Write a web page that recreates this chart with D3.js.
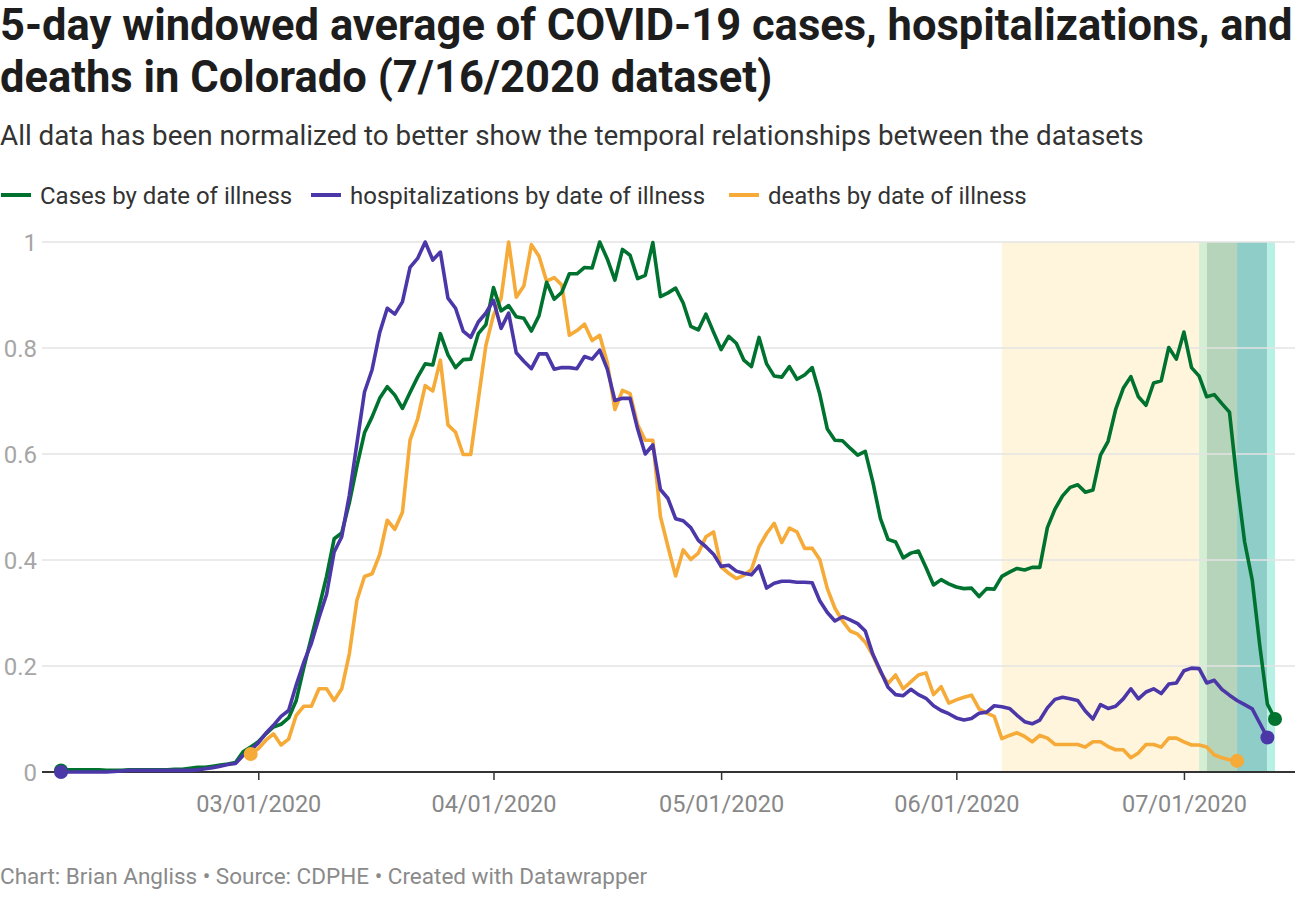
<!DOCTYPE html>
<html>
<head>
<meta charset="utf-8">
<script src="https://cdn.jsdelivr.net/npm/d3@7"></script>
<style>
  html, body { margin: 0; padding: 0; background: #fff; }
  svg { display: block; font-family: Roboto, "Noto Sans", sans-serif; }
</style>
</head>
<body>
<svg id="chart" width="1300" height="900"></svg>
<script>
// ---------------- DATA ----------------
const seriesNames = ["Cases by date of illness", "hospitalizations by date of illness", "deaths by date of illness"];
const casesStart = "2020-02-04";
const hospStart = "2020-02-04";
const deathsStart = "2020-02-29";

const cases = [
  0.003,0.004,0.004,0.004,0.004,0.004,0.003,0.003,0.003,0.004,
  0.004,0.004,0.004,0.004,0.004,0.005,0.005,0.007,0.009,0.009,
  0.011,0.013,0.015,0.018,0.038,0.047,0.057,0.072,0.085,0.090,
  0.102,0.135,0.197,0.254,0.310,0.369,0.440,0.451,0.508,0.577,
  0.640,0.670,0.705,0.727,0.711,0.686,0.716,0.745,0.770,0.768,
  0.827,0.787,0.763,0.778,0.779,0.827,0.844,0.914,0.870,0.880,
  0.859,0.856,0.832,0.861,0.924,0.892,0.905,0.940,0.940,0.952,
  0.951,1.000,0.968,0.928,0.986,0.975,0.931,0.937,0.999,0.897,
  0.904,0.913,0.885,0.841,0.834,0.864,0.830,0.797,0.822,0.809,
  0.777,0.765,0.820,0.770,0.747,0.745,0.765,0.741,0.749,0.763,
  0.713,0.647,0.626,0.625,0.611,0.598,0.605,0.547,0.478,0.439,
  0.434,0.404,0.413,0.417,0.386,0.353,0.363,0.355,0.349,0.346,
  0.347,0.331,0.346,0.345,0.369,0.377,0.384,0.381,0.386,0.386,
  0.461,0.496,0.521,0.537,0.542,0.528,0.532,0.598,0.624,0.684,
  0.724,0.746,0.708,0.692,0.734,0.738,0.801,0.779,0.830,0.763,
  0.747,0.708,0.712,0.695,0.679,0.547,0.434,0.362,0.238,0.128,
  0.100
];

const hospitalizations = [
  0.000,0.000,0.000,0.000,0.000,0.000,0.000,0.001,0.002,0.003,
  0.003,0.003,0.003,0.003,0.003,0.003,0.003,0.003,0.004,0.006,
  0.008,0.011,0.014,0.016,0.031,0.041,0.055,0.073,0.088,0.105,
  0.116,0.164,0.207,0.243,0.291,0.335,0.415,0.444,0.522,0.620,
  0.717,0.759,0.829,0.875,0.864,0.887,0.952,0.969,1.000,0.966,
  0.981,0.894,0.875,0.832,0.820,0.849,0.866,0.890,0.837,0.866,
  0.791,0.775,0.761,0.789,0.789,0.760,0.763,0.763,0.761,0.784,
  0.779,0.796,0.760,0.701,0.705,0.705,0.647,0.600,0.617,0.533,
  0.516,0.478,0.474,0.461,0.437,0.425,0.411,0.388,0.390,0.379,
  0.375,0.372,0.389,0.347,0.356,0.360,0.360,0.358,0.358,0.357,
  0.323,0.301,0.285,0.293,0.287,0.280,0.266,0.222,0.191,0.160,
  0.146,0.144,0.156,0.146,0.139,0.125,0.116,0.110,0.102,0.098,
  0.101,0.111,0.113,0.125,0.123,0.120,0.107,0.095,0.091,0.098,
  0.121,0.137,0.141,0.138,0.135,0.115,0.100,0.127,0.120,0.124,
  0.138,0.157,0.138,0.151,0.157,0.148,0.166,0.168,0.191,0.196,
  0.195,0.168,0.173,0.156,0.145,0.135,0.127,0.119,0.092,0.065
];

const deaths = [
  0.034,0.044,0.060,0.072,0.051,0.062,0.107,0.124,0.124,0.157,
  0.157,0.135,0.157,0.223,0.324,0.369,0.374,0.410,0.475,0.458,
  0.490,0.626,0.666,0.729,0.719,0.777,0.655,0.641,0.599,0.599,
  0.703,0.805,0.862,0.894,1.000,0.896,0.917,0.995,0.973,0.926,
  0.933,0.919,0.824,0.833,0.845,0.814,0.824,0.772,0.684,0.720,
  0.714,0.655,0.626,0.626,0.482,0.425,0.370,0.419,0.401,0.413,
  0.444,0.453,0.387,0.375,0.365,0.371,0.382,0.425,0.450,0.469,
  0.433,0.460,0.453,0.422,0.422,0.401,0.346,0.309,0.285,0.266,
  0.260,0.245,0.220,0.188,0.167,0.183,0.157,0.170,0.183,0.187,
  0.146,0.161,0.130,0.136,0.141,0.145,0.119,0.111,0.105,0.063,
  0.069,0.074,0.067,0.057,0.069,0.064,0.052,0.052,0.052,0.052,
  0.047,0.057,0.057,0.048,0.042,0.042,0.027,0.036,0.052,0.052,
  0.047,0.064,0.064,0.057,0.051,0.051,0.047,0.032,0.027,0.023,
  0.021
];

const yTicks = [0, 0.2, 0.4, 0.6, 0.8, 1];
const yTickLabels = ["0", "0.2", "0.4", "0.6", "0.8", "1"];
const xTickDates = ["2020-03-01", "2020-04-01", "2020-05-01", "2020-06-01", "2020-07-01"];
const xDomain = ["2020-02-04", "2020-07-13"];
// highlighted date ranges (start, end)
const rangeStarts = ["2020-06-07", "2020-07-03", "2020-07-04", "2020-07-08", "2020-07-12"];
const rangeEnds   = ["2020-07-03", "2020-07-04", "2020-07-08", "2020-07-12", "2020-07-13"];

const titleLines = ["5-day windowed average of COVID-19 cases, hospitalizations, and", "deaths in Colorado (7/16/2020 dataset)"];
const subtitle = "All data has been normalized to better show the temporal relationships between the datasets";
const footer = "Chart: Brian Angliss \u2022 Source: CDPHE \u2022 Created with Datawrapper";

// ---------------- STYLE ----------------
const colors = ["#00722f", "#4b37a8", "#f6aa38"];
const rangeColors = ["#fef5dc", "#d4eed3", "#b6d4b9", "#8ecdc8", "#b7f1e3"];

const parse = d3.timeParse("%Y-%m-%d");
const svg = d3.select("#chart");

const plotLeft = 42, plotRight = 1295;
const x = d3.scaleTime().domain(xDomain.map(parse)).range([61, 1275]);
const y = d3.scaleLinear().domain([0, 1]).range([772, 242]);

// Title
svg.append("g").selectAll("text").data(titleLines).join("text")
  .attr("x", 0).attr("y", (d, i) => 40 + i * 52)
  .attr("font-size", 43.5).attr("font-weight", 700).attr("fill", "#1d1d1d")
  .text(d => d);

svg.append("text").attr("x", 0).attr("y", 145)
  .attr("font-size", 27.8).attr("fill", "#333").text(subtitle);

// Legend
const legendX = [0, 310, 728];
const lg = svg.append("g").attr("class", "legend");
seriesNames.forEach((name, i) => {
  const g = lg.append("g").attr("transform", `translate(${legendX[i]},195)`);
  g.append("line").attr("x1", 1).attr("x2", 31).attr("y1", 0).attr("y2", 0)
    .attr("stroke", colors[i]).attr("stroke-width", 4);
  g.append("text").attr("x", 40).attr("y", 8.5).attr("font-size", 24).attr("fill", "#333").text(name);
});

// Range highlights
svg.append("g").selectAll("rect").data(rangeStarts).join("rect")
  .attr("x", (d) => x(parse(d)))
  .attr("width", (d, i) => x(parse(rangeEnds[i])) - x(parse(d)))
  .attr("y", y(1)).attr("height", y(0) - y(1))
  .attr("fill", (d, i) => rangeColors[i]);

// Grid
const grid = svg.append("g");
grid.selectAll("line").data(yTicks.filter(v => v > 0)).join("line")
  .attr("x1", plotLeft).attr("x2", plotRight)
  .attr("y1", d => y(d)).attr("y2", d => y(d))
  .attr("stroke", "#e3e3e3").attr("stroke-width", 1.5);

// Y labels
svg.append("g").selectAll("text").data(yTicks).join("text")
  .attr("x", 37).attr("y", d => y(d) + 8.5)
  .attr("text-anchor", "end").attr("font-size", 24).attr("fill", "#a6a6a6")
  .text((d, i) => yTickLabels[i]);

// X axis
const xAxis = d3.axisBottom(x)
  .tickValues(xTickDates.map(parse))
  .tickFormat(d3.timeFormat("%m/%d/%Y"))
  .tickSize(8).tickSizeOuter(0).tickPadding(15);
const ax = svg.append("g").attr("transform", `translate(0,${y(0)})`).call(xAxis);
ax.select(".domain").remove();
ax.selectAll(".tick line").attr("stroke", "#333").attr("stroke-width", 1.5);
ax.selectAll(".tick text").attr("font-size", 23.5).attr("fill", "#888")
  .attr("font-family", "Roboto, sans-serif");
svg.append("line").attr("x1", plotLeft).attr("x2", plotRight)
  .attr("y1", y(0)).attr("y2", y(0)).attr("stroke", "#333").attr("stroke-width", 2);

// Lines
const allSeries = [
  { start: casesStart, values: cases },
  { start: hospStart, values: hospitalizations },
  { start: deathsStart, values: deaths }
].map((s, i) => ({
  color: colors[i],
  points: s.values.map((v, k) => ({ date: d3.timeDay.offset(parse(s.start), k), value: v }))
}));

const line = d3.line().x(d => x(d.date)).y(d => y(d.value));
const drawOrder = [2, 0, 1];
drawOrder.forEach(i => {
  const s = allSeries[i];
  svg.append("path").datum(s.points)
    .attr("d", line).attr("fill", "none")
    .attr("stroke", s.color).attr("stroke-width", 3.6)
    .attr("stroke-linejoin", "round").attr("stroke-linecap", "round");
});
// end dots
drawOrder.forEach(i => {
  const s = allSeries[i];
  const ends = [s.points[0], s.points[s.points.length - 1]];
  svg.append("g").selectAll("circle").data(ends).join("circle")
    .attr("cx", d => x(d.date)).attr("cy", d => y(d.value)).attr("r", 7)
    .attr("fill", s.color);
});

// Footer
svg.append("text").attr("x", 0).attr("y", 884)
  .attr("font-size", 22.5).attr("fill", "#8a8a8a").text(footer);
</script>
</body>
</html>
